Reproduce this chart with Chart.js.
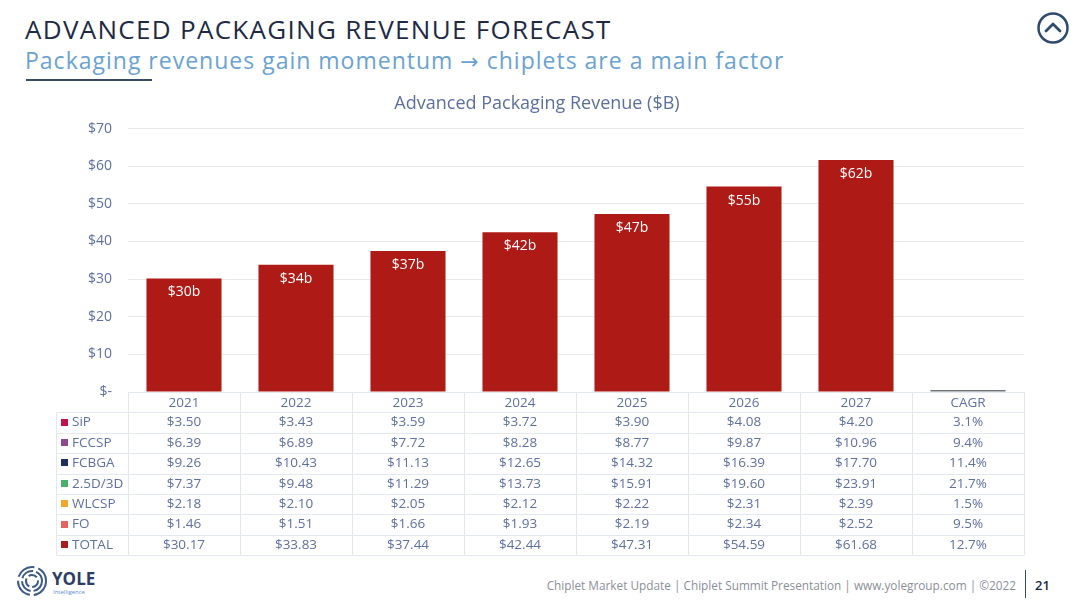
<!DOCTYPE html>
<html>
<head>
<meta charset="utf-8">
<script src="https://cdn.jsdelivr.net/npm/chart.js@4.4.0/dist/chart.umd.min.js"></script>
<style>
  html, body { margin: 0; padding: 0; background: #fff; }
  body { width: 1080px; height: 607px; position: relative; overflow: hidden; font-family: "Open Sans", sans-serif; }
  #title { position: absolute; left: 25px; top: 12px; font-size: 26px; line-height: 34px; color: #1e2a44; letter-spacing: 1.3px; white-space: nowrap; }
  #subtitle { position: absolute; left: 25px; top: 45px; font-size: 23px; line-height: 30px; color: #6aa2d0; letter-spacing: 1px; white-space: nowrap; }
  #subtitle .arr { font-family: "DejaVu Sans", sans-serif; font-size: 22px; }
  #rule { position: absolute; left: 26px; top: 79px; width: 126px; height: 2px; background: #3b4a66; }
  #wrap { position: absolute; left: 0; top: 88px; width: 1080px; height: 472px; }
  #footer { position: absolute; right: 64px; top: 577px; font-size: 11.8px; color: #8a8f99; white-space: nowrap; }
  #sep { position: absolute; left: 1025px; top: 570px; width: 1px; height: 28px; background: #3b4a66; }
  #page { position: absolute; left: 1035px; top: 576px; font-size: 13px; color: #1e2a44; font-weight: 600; }
  #logo { position: absolute; left: 16px; top: 564px; }
  #up { position: absolute; left: 1036px; top: 11px; }
</style>
</head>
<body>
<div id="title">ADVANCED PACKAGING REVENUE FORECAST</div>
<div id="subtitle">Packaging revenues gain momentum <span class="arr">→</span> chiplets are a main factor</div>
<div id="rule"></div>
<svg id="up" width="34" height="34" viewBox="0 0 34 34">
  <circle cx="17" cy="17" r="14.5" fill="none" stroke="#2e4a6e" stroke-width="2.5"/>
  <polyline points="10,20 17,13 24,20" fill="none" stroke="#2e4a6e" stroke-width="2.8" stroke-linecap="round" stroke-linejoin="round"/>
</svg>
<div id="wrap"><canvas id="chart"></canvas></div>
<svg id="logo" width="100" height="34" viewBox="0 0 100 34">
  <g fill="none" stroke="#3c5a86" stroke-width="2">
    <circle cx="16" cy="17" r="14" stroke-dasharray="20 4"/>
    <circle cx="16" cy="17" r="10" stroke-dasharray="14 3"/>
    <circle cx="16" cy="17" r="6" stroke-dasharray="9 3"/>
  </g>
  <text x="36" y="21" font-family="Open Sans" font-weight="700" font-size="17" fill="#2c3e63">YOLE</text>
  <text x="37" y="30" font-family="Open Sans" font-size="6" fill="#5a8ed0">Intelligence</text>
</svg>
<div id="footer">Chiplet Market Update | Chiplet Summit Presentation | www.yolegroup.com | ©2022</div>
<div id="sep"></div>
<div id="page">21</div>
<script>
const categories = ['2021', '2022', '2023', '2024', '2025', '2026', '2027', 'CAGR'];
const totalValues = [30.17, 33.83, 37.44, 42.44, 47.31, 54.59, 61.68, 0.127];
const barLabels = ['$30b', '$34b', '$37b', '$42b', '$47b', '$55b', '$62b', ''];
const yTicks = [0, 10, 20, 30, 40, 50, 60, 70];

const rowNames = ['SiP', 'FCCSP', 'FCBGA', '2.5D/3D', 'WLCSP', 'FO', 'TOTAL'];
const rowColors = ['#c0134c', '#8d4a8e', '#1f2f5c', '#4cae6b', '#f2a82b', '#e8635f', '#a81c1c'];
const sipRow = ['$3.50', '$3.43', '$3.59', '$3.72', '$3.90', '$4.08', '$4.20', '3.1%'];
const fccspRow = ['$6.39', '$6.89', '$7.72', '$8.28', '$8.77', '$9.87', '$10.96', '9.4%'];
const fcbgaRow = ['$9.26', '$10.43', '$11.13', '$12.65', '$14.32', '$16.39', '$17.70', '11.4%'];
const d25Row = ['$7.37', '$9.48', '$11.29', '$13.73', '$15.91', '$19.60', '$23.91', '21.7%'];
const wlcspRow = ['$2.18', '$2.10', '$2.05', '$2.12', '$2.22', '$2.31', '$2.39', '1.5%'];
const foRow = ['$1.46', '$1.51', '$1.66', '$1.93', '$2.19', '$2.34', '$2.52', '9.5%'];
const totalRow = ['$30.17', '$33.83', '$37.44', '$42.44', '$47.31', '$54.59', '$61.68', '12.7%'];
const tableRows = [sipRow, fccspRow, fcbgaRow, d25Row, wlcspRow, foRow, totalRow];

const textColor = '#5f6f9f';
const lineColor = '#e3e7ee';
const rowHeight = 20.4;

const barValuePlugin = {
    id: 'barValues',
    afterDatasetsDraw: function (chart) {
        const ctx = chart.ctx;
        const meta = chart.getDatasetMeta(0);
        ctx.save();
        ctx.font = '14px "Open Sans"';
        ctx.fillStyle = '#ffffff';
        ctx.textAlign = 'center';
        ctx.textBaseline = 'middle';
        meta.data.forEach(function (bar, i) {
            if (barLabels[i]) {
                ctx.fillText(barLabels[i], bar.x, bar.y + 14);
            }
        });
        ctx.restore();
    }
};

const tablePlugin = {
    id: 'dataTable',
    afterDraw: function (chart) {
        const ctx = chart.ctx;
        const x = chart.scales.x;
        const top = chart.chartArea.bottom;
        const colW = (x.right - x.left) / categories.length;
        const labelLeft = 56;
        const bottom = top + rowHeight * (tableRows.length + 1);
        ctx.save();
        ctx.strokeStyle = lineColor;
        ctx.lineWidth = 1;
        ctx.beginPath();
        for (let r = 0; r <= tableRows.length + 1; r++) {
            const y = Math.round(top + r * rowHeight) + 0.5;
            ctx.moveTo(r === 0 ? x.left : labelLeft, y);
            ctx.lineTo(x.right, y);
        }
        for (let c = 0; c <= categories.length; c++) {
            const cx = Math.round(x.left + c * colW) + 0.5;
            ctx.moveTo(cx, top);
            ctx.lineTo(cx, bottom);
        }
        ctx.moveTo(labelLeft + 0.5, top + rowHeight);
        ctx.lineTo(labelLeft + 0.5, bottom);
        ctx.stroke();

        ctx.font = '13.5px "Open Sans"';
        ctx.textBaseline = 'middle';
        tableRows.forEach(function (row, r) {
            const cy = top + (r + 1.5) * rowHeight;
            ctx.fillStyle = rowColors[r];
            ctx.fillRect(61, Math.round(cy - 4), 7, 7);
            ctx.fillStyle = textColor;
            ctx.textAlign = 'left';
            ctx.fillText(rowNames[r], 72, cy);
            ctx.textAlign = 'center';
            row.forEach(function (v, c) {
                ctx.fillText(v, x.getPixelForValue(c), cy);
            });
        });
        ctx.restore();
    }
};

new Chart(document.getElementById('chart').getContext('2d'), {
    type: 'bar',
    data: {
        labels: categories,
        datasets: [{
            label: 'TOTAL',
            data: totalValues,
            backgroundColor: categories.map(function (c) { return c === 'CAGR' ? '#70747c' : '#ae1a16'; }),
            barPercentage: 0.67,
            categoryPercentage: 1,
            minBarLength: 2
        }]
    },
    options: {
        responsive: true,
        maintainAspectRatio: false,
        animation: false,
        layout: { padding: { left: 50, right: 56, top: 0, bottom: 0 } },
        plugins: {
            legend: { display: false },
            tooltip: { enabled: false },
            title: {
                display: true,
                text: 'Advanced Packaging Revenue ($B)',
                color: '#5b6e9c',
                font: { family: 'Open Sans', size: 18, weight: 'normal' },
                padding: { top: 5, bottom: 14 }
            }
        },
        scales: {
            x: {
                grid: { display: false, drawTicks: false },
                border: { display: false },
                ticks: { color: textColor, font: { family: 'Open Sans', size: 13.5 }, padding: 3 },
                afterFit: function (scale) { scale.height = 168; }
            },
            y: {
                min: 0,
                max: 70,
                afterBuildTicks: function (scale) {
                    scale.ticks = yTicks.map(function (v) { return { value: v }; });
                },
                grid: { color: '#e8e8e8', drawTicks: false },
                border: { display: false },
                ticks: {
                    color: textColor,
                    font: { family: 'Open Sans', size: 14 },
                    padding: 16,
                    callback: function (v) { return v === 0 ? '$-' : '$' + v; }
                },
                afterFit: function (scale) { scale.width = 78; }
            }
        }
    },
    plugins: [barValuePlugin, tablePlugin]
});
</script>
</body>
</html>
